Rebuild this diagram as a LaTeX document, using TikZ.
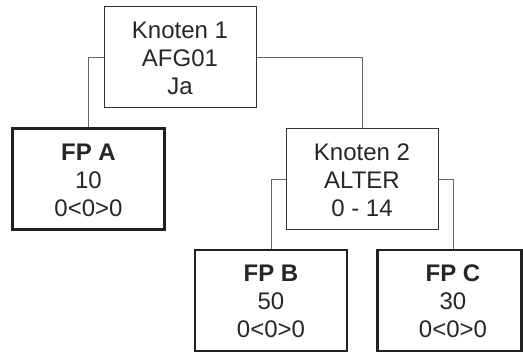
\documentclass[tikz,border=0pt]{standalone}
\usepackage{fontspec}
\setmainfont{Liberation Sans}
\begin{document}
\begin{tikzpicture}[x=1pt,y=-1pt,
  every node/.style={font=\fontsize{24}{28}\selectfont, text=black!85, align=center, inner sep=0pt},
  knot/.style={draw=black!80, line width=1pt, minimum width=152pt, minimum height=101pt},
  leaf/.style={draw=black!87, line width=2.2pt, minimum width=152pt, minimum height=101pt},
  conn/.style={draw=black!60, line width=1pt}]
\useasboundingbox (0,0) rectangle (523,352);
\newcommand{\fs}{\rule{0pt}{19pt}}
\node[knot] (k1) at (180,57.5) {\fs Knoten 1\\AFG01\\Ja};
\node[leaf] (fpa) at (88.5,179) {\fs\textbf{FP A}\\10\\0<0>0};
\node[knot] (k2) at (362,179.5) {\fs Knoten 2\\ALTER\\0 - 14};
\node[leaf] (fpb) at (271,300.5) {\fs\textbf{FP B}\\50\\0<0>0};
\node[leaf, minimum width=144pt] (fpc) at (449.5,300.5) {};
\node (fpctext) at (453,300.5) {\fs\textbf{FP C}\\30\\0<0>0};
\draw[conn] (k1.west) -| (fpa.north);
\draw[conn] (k1.east) -| (k2.north);
\draw[conn] (k2.west) -| (fpb.north);
\draw[conn] (k2.east) -| (fpctext |- fpc.north);
\end{tikzpicture}
\end{document}
